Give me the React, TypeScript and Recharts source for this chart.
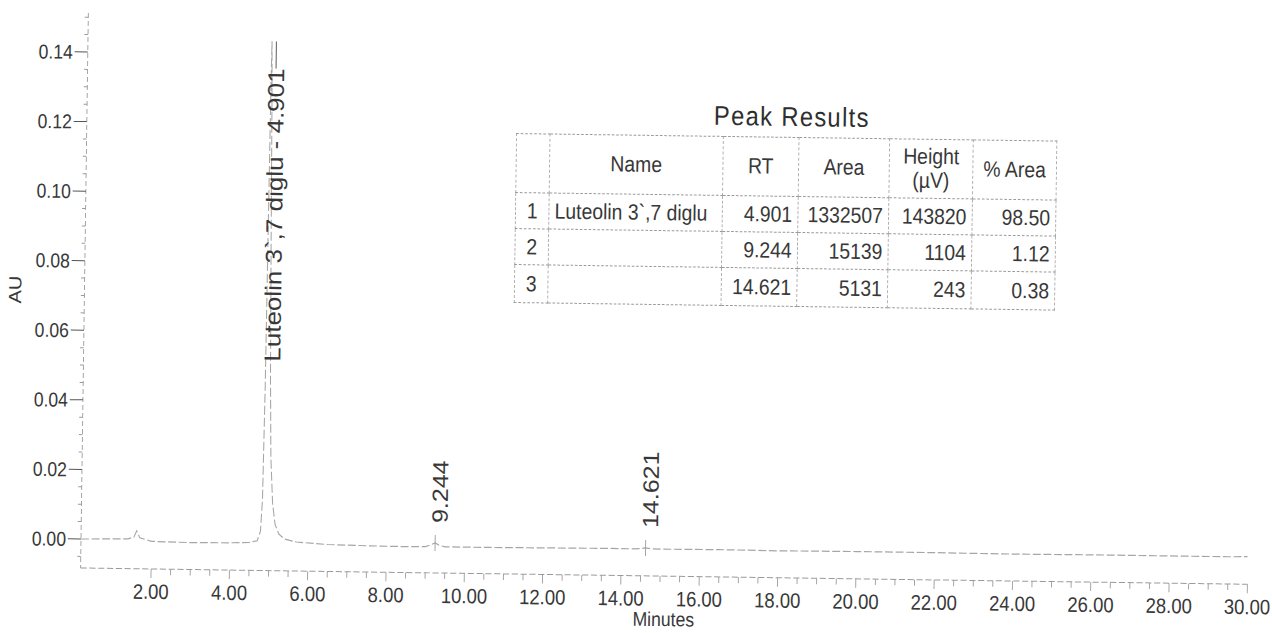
import React from 'react';
import { ComposedChart, Line, Scatter, XAxis, YAxis } from 'recharts';

// chromatogram trace (minutes / AU)
const traceTimes = [
  0.2, 0.8, 1.4, 1.55, 1.62, 1.7, 2.0, 3.0, 4.0, 4.5, 4.7, 4.78, 4.82, 4.85, 4.87, 4.89, 4.901,
  4.92, 4.95, 4.98, 5.02, 5.08, 5.15, 5.25, 5.4, 5.7, 6.5, 7.5, 8.5, 9.0, 9.15, 9.244, 9.35, 9.5,
  10.5, 12.0, 13.5, 14.3, 14.5, 14.621, 14.75, 15.0, 16.5, 18.0, 20.0, 22.0, 24.0, 26.0, 28.0, 29.5, 30.0,
];
const traceAU = [
  0.0, 0.0001, 0.0002, 0.0008, 0.0026, 0.0006, -0.0004, -0.0006, -0.0005, -0.0003, 0.0002, 0.003, 0.012,
  0.045, 0.09, 0.132, 0.1438, 0.128, 0.085, 0.048, 0.024, 0.011, 0.005, 0.0022, 0.0008, 0.0, -0.0006,
  -0.0008, -0.0009, -0.0008, -0.0002, 0.0003, -0.0004, -0.0008, -0.0008, -0.0007, -0.0006, -0.0006,
  -0.0005, -0.0003, -0.0005, -0.0006, -0.0005, -0.0006, -0.0005, -0.0005, -0.0006, -0.0005, -0.0005,
  -0.0005, -0.0004,
];

// peak results table
const peakNames = ['Luteolin 3`,7 diglu', '', ''];
const peakRT = [4.901, 9.244, 14.621];
const peakArea = [1332507, 15139, 5131];
const peakHeight = [143820, 1104, 243];
const peakPctArea = [98.5, 1.12, 0.38];

const xTicks = [
  2, 2.5, 3, 3.5, 4, 4.5, 5, 5.5, 6, 6.5, 7, 7.5, 8, 8.5, 9, 9.5, 10, 10.5, 11, 11.5, 12, 12.5, 13, 13.5,
  14, 14.5, 15, 15.5, 16, 16.5, 17, 17.5, 18, 18.5, 19, 19.5, 20, 20.5, 21, 21.5, 22, 22.5, 23, 23.5, 24,
  24.5, 25, 25.5, 26, 26.5, 27, 27.5, 28, 28.5, 29, 29.5, 30,
];
const yTicks = [
  -0.005, 0, 0.005, 0.01, 0.015, 0.02, 0.025, 0.03, 0.035, 0.04, 0.045, 0.05, 0.055, 0.06, 0.065, 0.07,
  0.075, 0.08, 0.085, 0.09, 0.095, 0.1, 0.105, 0.11, 0.115, 0.12, 0.125, 0.13, 0.135, 0.14, 0.145, 0.15,
];

const FONT = "'Liberation Sans', Arial, Helvetica, sans-serif";
const TEXT = '#383838';
const LINE = '#9a9a9a';
const OX = 30; // extra room on the left of the design frame

const data = traceTimes.map((t, i) => ({ t, au: traceAU[i] }));
const peaks = peakRT.map((rt, i) => ({
  t: rt,
  au: traceAU[traceTimes.indexOf(rt)],
  label: peakNames[i] ? `${peakNames[i]} - ${rt.toFixed(3)}` : rt.toFixed(3),
}));

const isMajorX = (v: number) => Math.abs(v % 2) < 1e-6;
const isMajorY = (v: number) => Math.abs(Math.round(v * 1000) % 20) < 1e-6 && v >= 0;

function XTick(props: any) {
  const { x, y, payload } = props;
  const axisY = y - 15;
  const major = isMajorX(payload.value);
  return (
    <g>
      <line x1={x} x2={x} y1={axisY} y2={axisY + (major ? 9 : 6)} stroke={LINE} strokeWidth={1} />
      {major && (
        <text x={x} y={y} dy="0.71em" textAnchor="middle" fontSize={21} fontFamily={FONT} fill={TEXT}>
          {payload.value.toFixed(2)}
        </text>
      )}
    </g>
  );
}

function YTick(props: any) {
  const { x, y, payload } = props;
  const axisX = x + 17;
  const major = isMajorY(payload.value);
  return (
    <g>
      <line x1={axisX - (major ? 15 : 4)} x2={axisX} y1={y} y2={y} stroke={major ? '#555' : LINE} strokeWidth={1} />
      {major && (
        <text x={x} y={y} dy="0.355em" textAnchor="end" fontSize={20} fontFamily={FONT} fill={TEXT}>
          {payload.value.toFixed(2)}
        </text>
      )}
    </g>
  );
}

function PeakLabel(props: any) {
  const { cx, cy, payload } = props;
  if (cx == null || cy == null) return null;
  const fs = 26;
  const estLen = payload.label.length * fs * 0.5;
  const tall = cy - 20 - estLen < 30;
  if (tall) {
    const yEnd = cy + 27;
    return (
      <g>
        <line x1={cx + 5} x2={cx + 5} y1={cy} y2={yEnd} stroke="#666" strokeWidth={1.2} />
        <text
          x={cx}
          y={yEnd}
          dy="0.55em"
          transform={`rotate(-90 ${cx} ${yEnd})`}
          textAnchor="end"
          fontSize={fs}
          fontFamily={FONT}
          fill={TEXT}
        >
          {payload.label}
        </text>
      </g>
    );
  }
  const y0 = cy - 20;
  return (
    <g>
      <line x1={cx} x2={cx} y1={cy - 8} y2={cy + 8} stroke={LINE} strokeWidth={1} />
      <text
        x={cx}
        y={y0}
        dy="0.55em"
        transform={`rotate(-90 ${cx} ${y0})`}
        textAnchor="start"
        fontSize={25}
        fontFamily={FONT}
        fill={TEXT}
      >
        {payload.label}
      </text>
    </g>
  );
}

const cell: React.CSSProperties = {
  borderLeft: '1px dashed #a8a8a8',
  borderRight: '1px dashed #a8a8a8',
  borderTop: '1px dashed #999',
  borderBottom: '1px dashed #999',
  padding: '0 6px',
  whiteSpace: 'nowrap',
  overflow: 'hidden',
};

function PeakTable() {
  const colW = [38, 197, 86, 103, 95, 95];
  return (
    <div style={{ position: 'absolute', left: 599, top: 0 }}>
      <div
        style={{
          position: 'absolute',
          left: 912 - 599 - 180,
          width: 360,
          top: 92,
          textAlign: 'center',
          fontSize: 27,
          letterSpacing: 1.5,
          fontFamily: FONT,
          color: '#2e2e2e',
        }}
      >
        Peak Results
      </div>
      <table
        style={{
          position: 'absolute',
          left: 0,
          top: 127,
          borderCollapse: 'collapse',
          tableLayout: 'fixed',
          width: colW.reduce((a, b) => a + b, 0),
          fontFamily: FONT,
          fontSize: 22,
          color: TEXT,
        }}
      >
        <colgroup>
          {colW.map((w, i) => (
            <col key={i} style={{ width: w }} />
          ))}
        </colgroup>
        <thead>
          <tr style={{ height: 59 }}>
            <th style={cell}></th>
            <th style={{ ...cell, fontWeight: 'normal' }}>Name</th>
            <th style={{ ...cell, fontWeight: 'normal' }}>RT</th>
            <th style={{ ...cell, fontWeight: 'normal' }}>Area</th>
            <th style={{ ...cell, fontWeight: 'normal', lineHeight: '24px' }}>
              Height
              <br />
              (µV)
            </th>
            <th style={{ ...cell, fontWeight: 'normal' }}>% Area</th>
          </tr>
        </thead>
        <tbody>
          {peakRT.map((rt, i) => (
            <tr key={i} style={{ height: i === 2 ? 38 : 36 }}>
              <td style={{ ...cell, textAlign: 'center', padding: 0 }}>{i + 1}</td>
              <td style={{ ...cell, textAlign: 'left' }}>{peakNames[i]}</td>
              <td style={{ ...cell, textAlign: 'right' }}>{rt.toFixed(3)}</td>
              <td style={{ ...cell, textAlign: 'right' }}>{peakArea[i]}</td>
              <td style={{ ...cell, textAlign: 'right' }}>{peakHeight[i]}</td>
              <td style={{ ...cell, textAlign: 'right' }}>{peakPctArea[i].toFixed(2)}</td>
            </tr>
          ))}
        </tbody>
      </table>
    </div>
  );
}

export default function App() {
  const xDomain = [0.2, 30];
  const yDomain = [-0.00834, 0.1512];
  return (
    <div
      style={{
        position: 'absolute',
        left: 0,
        top: 0,
        width: 1272,
        height: 633,
        overflow: 'hidden',
        background: '#fff',
      }}
    >
      <div
        style={{
          position: 'absolute',
          left: -OX,
          top: 0,
          width: 1475,
          height: 633,
          transformOrigin: `${81 + OX}px 539px`,
          transform: 'rotate(0.8deg) scaleX(0.88)',
        }}
      >
        <ComposedChart width={1475} height={633} data={data} margin={{ top: 13, right: 38, bottom: 5, left: OX }}>
          <XAxis
            dataKey="t"
            type="number"
            domain={xDomain}
            ticks={xTicks}
            interval={0}
            height={60}
            tickSize={8}
            tickMargin={7}
            tickLine={false}
            tick={<XTick />}
            axisLine={{ stroke: LINE, strokeDasharray: '7 3' }}
            allowDataOverflow
            label={{ value: 'Minutes', position: 'insideBottom', offset: 10, fontSize: 20, fill: TEXT, fontFamily: FONT }}
          />
          <XAxis
            xAxisId="top"
            orientation="top"
            type="number"
            domain={xDomain}
            height={0}
            tick={false}
            tickLine={false}
            axisLine={{ stroke: '#a0a0a0', strokeDasharray: '10 4' }}
            allowDataOverflow
          />
          <YAxis
            type="number"
            domain={yDomain}
            ticks={yTicks}
            interval={0}
            width={81}
            tickSize={15}
            tickMargin={2}
            tickLine={false}
            tick={<YTick />}
            axisLine={{ stroke: LINE, strokeDasharray: '5 3' }}
            allowDataOverflow
            label={{
              value: 'AU',
              angle: -90,
              position: 'insideLeft',
              offset: 2,
              fontSize: 20,
              fill: TEXT,
              fontFamily: FONT,
              style: { textAnchor: 'middle' },
            }}
          />
          <YAxis
            yAxisId="right"
            orientation="right"
            type="number"
            domain={yDomain}
            width={0}
            tick={false}
            tickLine={false}
            axisLine={{ stroke: '#b0b0b0', strokeDasharray: '6 4' }}
            allowDataOverflow
          />
          <Line
            type="linear"
            dataKey="au"
            stroke="#a6a6a6"
            strokeWidth={1.2}
            strokeDasharray="9 3"
            dot={false}
            isAnimationActive={false}
          />
          <Scatter data={peaks} dataKey="au" shape={<PeakLabel />} isAnimationActive={false} />
        </ComposedChart>
        <PeakTable />
      </div>
    </div>
  );
}
